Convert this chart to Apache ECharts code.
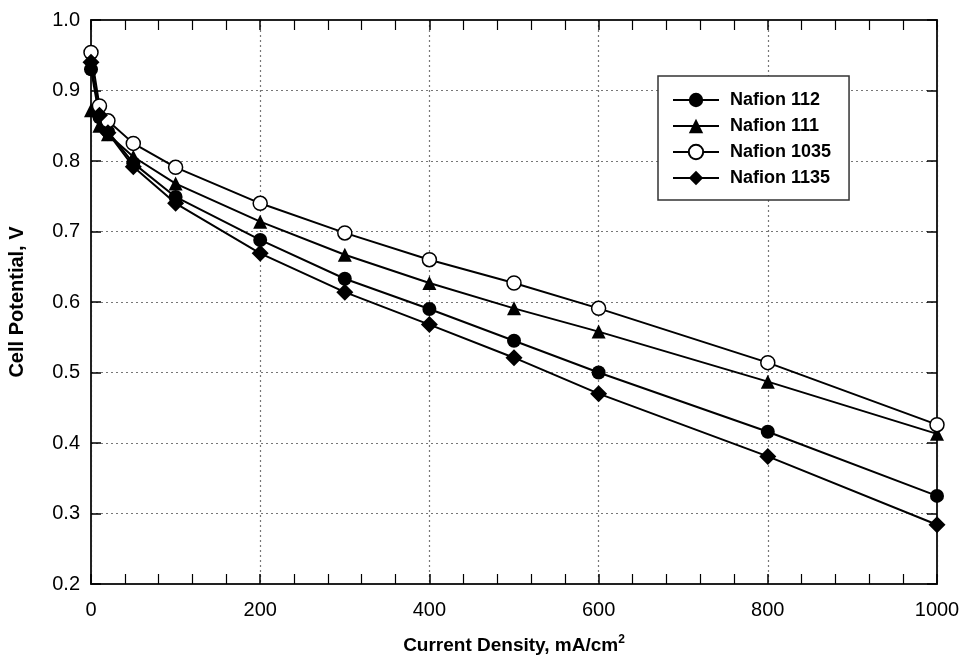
<!DOCTYPE html>
<html>
<head>
<meta charset="utf-8">
<script src="https://cdn.jsdelivr.net/npm/echarts@6/dist/echarts.min.js"></script>
<style>
  html, body { margin: 0; padding: 0; background: #fff; }
  #chartBox { width: 962px; height: 656px; }
</style>
</head>
<body>
<div id="chartBox"></div>
<script>
// current density, mA/cm2
const currentDensity = [0, 10, 20, 50, 100, 200, 300, 400, 500, 600, 800, 1000];
// cell potential, V
const nafion112 = [0.930, 0.862, 0.842, 0.797, 0.749, 0.688, 0.633, 0.590, 0.545, 0.500, 0.416, 0.325];
const nafion111 = [0.872, 0.850, 0.838, 0.806, 0.768, 0.714, 0.667, 0.627, 0.591, 0.558, 0.487, 0.413];
const nafion1035 = [0.954, 0.878, 0.857, 0.825, 0.791, 0.740, 0.698, 0.660, 0.627, 0.591, 0.514, 0.426];
const nafion1135 = [0.940, 0.865, 0.840, 0.792, 0.740, 0.669, 0.614, 0.568, 0.521, 0.470, 0.381, 0.284];

const seriesNames = ['Nafion 112', 'Nafion 111', 'Nafion 1035', 'Nafion 1135'];

const FONT = 'Liberation Sans';
const chartDom = document.getElementById('chartBox');
const myChart = echarts.init(chartDom);

function pairs(ys) {
    return currentDensity.map((x, i) => [x, ys[i]]);
}

function makeSeries(name, ys, symbol, size, fill) {
    return {
        name: name,
        type: 'line',
        data: pairs(ys),
        symbol: symbol,
        symbolSize: size,
        showAllSymbol: true,
        xAxisIndex: 0,
        yAxisIndex: 0,
        itemStyle: {
            color: fill,
            borderColor: '#000',
            borderWidth: fill === '#fff' ? 1.5 : 0,
        },
        lineStyle: { color: '#000', width: 2 },
        emphasis: { disabled: true },
        z: 3,
    };
}

const axisBase = {
    type: 'value',
    axisLine: { show: true, onZero: false, lineStyle: { color: '#222', width: 2 } },
    axisTick: { show: true, inside: true, length: 10, lineStyle: { color: '#000', width: 1.5 } },
};

let option = {
    animation: false,
    backgroundColor: '#fff',
    textStyle: { fontFamily: FONT },
    grid: { left: 91, right: 25, top: 20, bottom: 72, containLabel: false, outerBoundsMode: 'none' },
    legend: {
        orient: 'vertical',
        left: 658,
        top: 76,
        width: 192,
        padding: [15, 18, 13, 14],
        itemGap: 8,
        itemWidth: 46,
        itemHeight: 18,
        backgroundColor: '#fff',
        borderColor: '#333',
        borderWidth: 1.5,
        borderRadius: 0,
        data: seriesNames,
        textStyle: { fontFamily: FONT, fontWeight: 'bold', fontSize: 18, color: '#000', padding: [0, 0, 0, 6] },
    },
    xAxis: [
        Object.assign({}, axisBase, {
            position: 'bottom',
            min: 0, max: 1000, interval: 200,
            name: 'Current Density, mA/cm{sup|2}',
            nameLocation: 'middle',
            nameGap: 50,
            nameTextStyle: {
                fontFamily: FONT, fontWeight: 'bold', fontSize: 19, color: '#000',
                rich: { sup: { fontFamily: FONT, fontWeight: 'bold', fontSize: 12, verticalAlign: 'top', padding: [0, 0, 12, 0] } },
            },
            axisLabel: { fontFamily: FONT, fontSize: 20, color: '#000', margin: 16, formatter: v => String(v) },
            minorTick: { show: true, splitNumber: 5, length: 10, lineStyle: { color: '#000', width: 1.2 } },
            splitLine: { show: true, lineStyle: { color: '#777', type: [2, 3], width: 1.2 } },
        }),
        Object.assign({}, axisBase, {
            position: 'top',
            min: 0, max: 1000, interval: 200,
            axisLabel: { show: false },
            minorTick: { show: true, splitNumber: 5, length: 10, lineStyle: { color: '#000', width: 1.2 } },
            splitLine: { show: false },
        }),
    ],
    yAxis: [
        Object.assign({}, axisBase, {
            position: 'left',
            min: 0.2, max: 1.0, interval: 0.1,
            name: 'Cell Potential, V',
            nameLocation: 'middle',
            nameGap: 64,
            nameTextStyle: { fontFamily: FONT, fontWeight: 'bold', fontSize: 20, color: '#000' },
            axisLabel: { fontFamily: FONT, fontSize: 20, color: '#000', margin: 11, formatter: v => v.toFixed(1) },
            splitLine: { show: true, lineStyle: { color: '#777', type: [2, 3], width: 1.2 } },
        }),
        Object.assign({}, axisBase, {
            position: 'right',
            min: 0.2, max: 1.0, interval: 0.1,
            axisLabel: { show: false },
            splitLine: { show: false },
        }),
    ],
    series: [
        makeSeries('Nafion 112', nafion112, 'circle', 14, '#000'),
        makeSeries('Nafion 111', nafion111, 'triangle', 14, '#000'),
        makeSeries('Nafion 1035', nafion1035, 'circle', 14, '#fff'),
        makeSeries('Nafion 1135', nafion1135, 'diamond', 17, '#000'),
    ],
};

myChart.setOption(option);
</script>
</body>
</html>
